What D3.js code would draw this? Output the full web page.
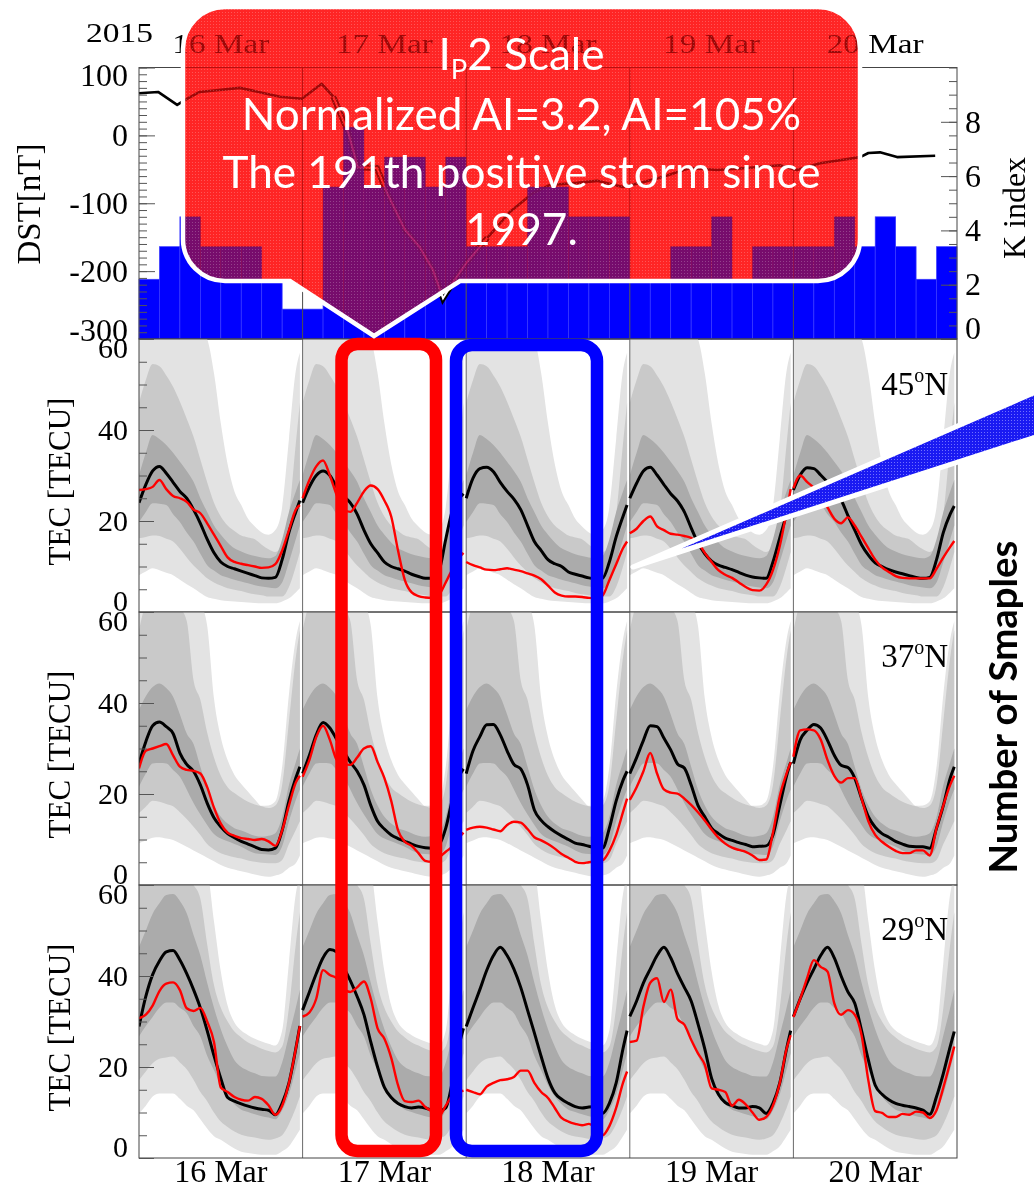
<!DOCTYPE html>
<html>
<head>
<meta charset="utf-8">
<script src="https://cdn.jsdelivr.net/npm/d3@7"></script>
<style>
  html, body { margin: 0; padding: 0; background: #fff; }
  svg { display: block; }
</style>
</head>
<body>
<svg id="chart" width="1034" height="1189"></svg>
<script>
// ---------------- data ----------------
const YEAR_LABEL = "2015";
const DAY_LABELS = ["16 Mar", "17 Mar", "18 Mar", "19 Mar", "20 Mar"];
const LAT_LABELS = ["45", "37", "29"];

// K index, 3-hour bins, 16-20 Mar
const KP_INDEX = [
  2.2, 3.4, 4.5, 3.4, 3.4, 3.4, 2.2, 1.1,
  1.1, 5.6, 7.8, 5.6, 6.7, 6.7, 5.6, 6.7,
  3.4, 3.4, 3.4, 5.6, 5.6, 4.5, 4.5, 4.5,
  2.2, 2.2, 3.4, 3.4, 4.5, 2.2, 3.4, 3.4,
  3.4, 3.4, 4.5, 3.4, 4.5, 3.4, 2.2, 3.4
];

// Dst index (hours since 16 Mar 00 UT, nT)
const DST_HOURS = [0, 2.8, 5.6, 6.7, 8.9, 14.8, 20.7, 23.9, 26.8, 28.5, 30.7, 32.1, 34.9, 36.4, 39, 41.2,
  43.1, 44.6, 46.1, 48.1, 51.1, 54.4, 57.8, 60.3, 64.3, 67.2, 71, 73.9, 76.9, 80.8, 84.8, 89.2,
  94, 96.5, 99.9, 105.8, 107, 108.7, 111.2, 116.8];
const DST_NT = [62, 64, 45, 52, 64, 70, 57, 54, 76, 57, 4, -47, -48, -85, -139, -165,
  -198, -240, -216, -187, -151, -113, -85, -73, -70, -67, -76, -69, -61, -48, -51, -48,
  -44, -51, -41, -32, -26, -25, -32, -30];
const DST_STORM_HOURS = [28.5, 51.1];

// sample times within each day (UT hours)
const HOURS = [0, 1, 2, 3, 4, 5, 6, 7, 8, 9, 10, 11, 12, 13, 14, 15, 16, 17, 18, 19, 20, 21, 22, 23, 23.6];

// ---- 45N : TEC (TECU) ----
const MEDIAN_45N = [
  [24, 28, 31, 32, 30.5, 28.5, 26.5, 25, 22.5, 19.5, 16, 13, 11, 10, 9.5, 9, 8.5, 8, 7.5, 7.4, 7.6, 11.5, 17.5, 22, 24.5],
  [24, 27.5, 30, 31, 30, 27.5, 25.5, 24, 21.5, 18, 15, 13, 11, 10, 9.5, 9, 8.3, 7.8, 7.4, 7.4, 9, 16, 22.5, 25, 26],
  [25, 29.4, 31.5, 31.8, 30.8, 28.5, 26.5, 24.8, 22.5, 19, 15.5, 13.5, 11.5, 10.6, 10, 8.8, 8.3, 7.9, 7.5, 7.3, 7.4, 11, 16.5, 21, 23.5],
  [25, 28.3, 31, 31.8, 30.1, 28, 26, 24.4, 22, 18.5, 15.2, 12.8, 11.2, 10.3, 9.8, 9.3, 8.7, 8.1, 7.7, 7.5, 7.4, 11, 16.3, 21.5, 24.5],
  [26.8, 30.1, 31.7, 31.5, 30.1, 28.5, 26.5, 24.6, 21.2, 18, 14.8, 12.5, 10.8, 10, 9.3, 8.8, 8.4, 8, 7.6, 7.4, 7.6, 11.5, 17.5, 21.5, 23.3]
];
const OBS_45N = [
  [26.8, 27, 27.5, 29, 27, 25.5, 25, 24.2, 22.5, 21.7, 19.5, 17, 14.5, 12, 11, 10.6, 10.3, 10, 9.7, 9.8, 10.5, 13.5, 18, 22.5, 23.5],
  [25, 29, 32, 33.3, 30, 25.7, 22.5, 22, 24, 26.5, 27.8, 27, 24.5, 21, 13.5, 7, 4.3, 3.5, 3.2, 3.1, 3.8, 6.5, 9.5, 12, 13],
  [11, 10.3, 9.8, 9.3, 9.2, 9.4, 9.6, 9.3, 9, 8.5, 8, 7.2, 5.8, 4.3, 3.6, 3.4, 3.4, 3.3, 3.1, 3, 3.6, 7, 10.5, 14, 15.5],
  [17.3, 18.3, 20, 21, 18.8, 18, 17.2, 17, 16.7, 16.3, 15.3, 13, 11, 9.2, 8.2, 7.5, 6.5, 5.5, 4.8, 4.7, 6, 9.2, 14.5, 22, 27],
  [27.2, 30, 28.6, 27.3, 25.5, 23, 20.5, 19.5, 20.8, 19, 16.5, 14, 11.5, 9.8, 8.8, 7.9, 7.5, 7.4, 7.4, 7.4, 7.4, 9.5, 12, 14.3, 15.6]
];
const OUTER_HI_45N = [62, 64, 66, 66, 65, 65, 64, 64, 63, 62, 60, 52.5, 41.5, 32.5, 26.5, 23.5, 20.5, 18.8, 17.5, 17, 18, 23, 38, 53, 57];
const MID_HI_45N = [46, 51, 54.5, 54, 52, 49.5, 46.2, 42.5, 38.5, 33.5, 28.5, 24, 21, 19, 17.8, 16.8, 16.4, 16, 14.8, 13.8, 13.2, 14.5, 21.5, 37, 46];
const INNER_HI_45N = [30, 35, 38.9, 38, 36.7, 35, 33, 31, 28.6, 25, 22, 19, 17, 15.3, 14, 13.3, 12.7, 12.3, 12, 11.8, 12.3, 16, 22, 26.5, 29];
const INNER_LO_45N = [19.8, 22, 23.9, 23.8, 23.5, 21.5, 19.8, 17.5, 15.5, 12.8, 10.3, 9.1, 8.1, 7.6, 7.1, 6.7, 6.3, 5.9, 5.6, 5.4, 5.2, 6.5, 11, 16, 19];
const MID_LO_45N = [16.2, 16.5, 16.8, 16.7, 16.1, 15.5, 13.9, 12, 10.2, 8.8, 7.4, 6.5, 5.8, 5.2, 4.9, 4.6, 4.2, 3.9, 3.7, 3.4, 3.4, 3.4, 5.5, 10, 13.2];
const OUTER_LO_45N = [8.1, 8.9, 9.6, 9.2, 8.6, 8.1, 7.1, 6.1, 5.2, 4.2, 3.3, 2.9, 2.6, 2.4, 2.3, 2.2, 2.1, 2, 1.9, 1.9, 1.9, 2.3, 3, 4.3, 5.2];

// ---- 37N ----
const MEDIAN_37N = [
  [26.7, 31.5, 35, 35.8, 34.8, 33.3, 29, 26.5, 25, 22, 18, 14.8, 12.8, 11.3, 10.4, 9.6, 9, 8.4, 7.8, 7.7, 8.1, 12, 18.5, 23.5, 26],
  [24.5, 28.5, 33, 35.7, 34.5, 32, 29.5, 27, 25, 22, 17.5, 14, 12.3, 11, 10.2, 9.6, 9, 8.5, 8.2, 8.1, 8.8, 12.5, 19, 24, 25.5],
  [24.5, 29.5, 32.6, 35.2, 35.3, 33, 29.5, 26.5, 25.5, 22, 16.5, 14.2, 12.8, 11.7, 10.8, 10, 9.2, 8.9, 8.5, 8.2, 8.1, 12.5, 18.5, 23, 25],
  [24.5, 28, 31.8, 35, 34.8, 32.3, 29.7, 26.6, 25.7, 22, 17.5, 15, 12.5, 11.3, 10.3, 9.8, 9.3, 8.9, 8.4, 8.5, 8.6, 11, 17.5, 24, 27],
  [26.7, 31.9, 34, 35.3, 34.5, 31.8, 28.5, 26.3, 25.8, 23.5, 19, 15, 12.7, 11.3, 10.5, 9.6, 9, 8.5, 8.4, 8.4, 8.1, 12.5, 17.5, 23.5, 26]
];
const OBS_37N = [
  [25.6, 29.5, 30, 30.5, 31, 28.5, 26, 25.3, 25.1, 24.5, 21.5, 17, 13.5, 11.5, 10.8, 10.3, 10.1, 9.9, 10.1, 9.6, 8.6, 12, 17.5, 22.5, 24],
  [23.8, 27.5, 32.5, 35, 31.9, 27.5, 26.5, 26.4, 28, 30, 30.5, 27, 23.5, 18.5, 12, 9.5, 8.6, 7, 5.3, 5.1, 6, 7.3, 8.5, 10.5, 11.5],
  [12.1, 12.6, 12.8, 12.6, 12.2, 11.8, 13.2, 13.9, 13.7, 12.3, 10.5, 9.8, 9, 8, 6.8, 6, 5.1, 4.8, 5, 5.2, 5.4, 7.5, 11, 16, 19],
  [18.7, 21.5, 25, 29, 24.5, 21, 20.3, 20.1, 19, 17.6, 16, 14.2, 12.2, 10.4, 9.1, 8.2, 7.7, 7.3, 6.5, 5.5, 5.6, 11.5, 19.5, 24.5, 27],
  [28.2, 34, 34.2, 34, 32, 27.5, 24, 22.5, 23.5, 23.5, 19, 14, 11, 9.5, 8.4, 7.5, 7, 7, 7.6, 7.6, 6.5, 12.5, 17.5, 22, 24]
];
const OUTER_HI_37N = [66, 68, 70, 70, 70, 69, 68, 66, 64, 62, 57, 41, 32.5, 27.5, 24.2, 22.2, 20.5, 18.8, 17.4, 17.5, 18.4, 26, 42, 54, 58];
const MID_HI_37N = [56, 62, 64, 65, 64, 63, 61, 58, 45, 40.7, 33.5, 28, 24, 21.5, 20.2, 19.2, 18.3, 17.7, 17.3, 16.9, 17.5, 22, 36, 50, 56];
const INNER_HI_37N = [38.5, 41.5, 43.5, 44.3, 43.3, 41.4, 37.5, 33.3, 31, 26, 21, 17.5, 15, 13.5, 12.5, 12, 11.4, 10.8, 10.6, 10.8, 11.4, 15, 22, 27, 30];
const INNER_LO_37N = [21.6, 24.5, 26.7, 26.8, 26.7, 25.3, 23.8, 21, 18, 15.5, 13.2, 11.2, 10.2, 9.6, 9, 8.4, 7.6, 7, 6.8, 6.7, 6.6, 8.5, 14, 18.7, 21];
const MID_LO_37N = [15.8, 17.2, 18.5, 18.3, 17.8, 17.3, 16, 14.5, 12.8, 11, 9, 7.8, 7, 6.5, 6.1, 5.8, 5.4, 5.1, 4.9, 4.8, 4.8, 5.5, 9, 12.1, 14];
const OUTER_LO_37N = [9.2, 9.8, 10.4, 10.5, 10.2, 9.9, 9.2, 8.4, 7.6, 6.8, 6, 5.2, 4.4, 3.8, 3.4, 3, 2.7, 2.3, 2, 1.8, 2.1, 2.6, 3.8, 4.8, 6.5];

// ---- 29N ----
const MEDIAN_29N = [
  [28.9, 35.5, 40.3, 43.3, 45.3, 45.6, 43.5, 40.5, 37, 33, 28, 22.5, 17.5, 13.3, 12.5, 11.9, 11.4, 11, 10.7, 10.5, 9.5, 12, 16.5, 24, 29],
  [32.5, 36.5, 40.5, 44, 45.8, 45.3, 42, 39, 35.5, 31.5, 25.5, 20, 15.5, 13.3, 12, 11.3, 11, 11.2, 11, 10.5, 10.3, 11, 17, 25, 28.5],
  [28.9, 33, 37, 41.2, 44.5, 46.3, 44.5, 41.5, 37.5, 32.5, 27.5, 22.3, 17.5, 14.3, 12.9, 12, 11.3, 11, 11.2, 11.3, 9.8, 12, 16.5, 24, 28],
  [31.1, 34.5, 38.5, 41.5, 44.5, 46.3, 44, 40.5, 37.5, 34.5, 29.5, 24, 17.5, 14, 12.2, 11.5, 11, 11, 11.3, 11, 9.8, 12, 16.5, 24, 28],
  [31.1, 35, 38.5, 41.5, 44.5, 46.3, 44, 40, 36.5, 34, 28, 21.5, 16, 14, 12.8, 12, 11.6, 11.3, 11, 10.5, 9.6, 13.5, 18.6, 24.5, 27.8]
];
const OBS_29N = [
  [30.7, 31.5, 33.5, 36.7, 38.3, 38.6, 36.9, 32.9, 32.3, 33, 30, 25.5, 15.5, 14.5, 13.4, 12.8, 12.6, 13.4, 13, 11.6, 9.5, 11.5, 16.5, 24, 29],
  [31.1, 32, 35, 41.3, 40.2, 39.5, 37.3, 36.5, 37.5, 38.8, 35, 28.5, 26.2, 22, 16, 12.5, 12.3, 12.6, 11.2, 10.2, 9.2, 11.5, 13.8, 14.5, 14.8],
  [15, 14.5, 14, 15.7, 16.5, 17.1, 17.3, 17.8, 19.2, 19.2, 16.5, 14.5, 13.2, 11, 8.8, 8, 7.5, 7.2, 7.5, 6.5, 5, 7, 11, 16.5, 19],
  [25.5, 25.8, 33.3, 38.5, 39.5, 34.3, 37, 30.5, 29.3, 26, 23, 20.5, 15.3, 15, 14.5, 11.5, 12.8, 11.8, 10, 8.4, 9, 11.5, 16.5, 24, 27],
  [31, 35, 39.5, 43.5, 42, 41, 34, 31.5, 32.5, 31.5, 27, 17, 10.3, 9.9, 9, 9, 9.7, 9.5, 10.2, 10, 8.8, 10.5, 15.5, 21, 24.5]
];
const OUTER_HI_29N = [66, 68, 70, 70, 70, 70, 69, 68, 66, 65, 63, 52, 41, 33.5, 29.8, 28, 27, 26.2, 25.6, 25.1, 24.7, 28, 43, 58, 62];
const MID_HI_29N = [62, 64, 66, 66, 66, 65, 64, 62, 60, 57, 47, 38, 33, 30, 27.8, 26.5, 25.4, 24.7, 24, 23.5, 23.2, 24.5, 33, 47, 54];
const INNER_HI_29N = [46.4, 50, 53.7, 56, 57.8, 58, 56.5, 53.8, 49, 44.5, 38.5, 33, 28.3, 24.5, 21.5, 20, 19.2, 18.6, 18, 17.9, 17.9, 21, 27, 33, 37];
const INNER_LO_29N = [26.7, 29, 31, 33, 34.2, 34.2, 33, 31.8, 29, 26.7, 22.5, 19.3, 16, 13.5, 11.8, 10.6, 10.1, 9.6, 9.2, 8.9, 8.5, 10.5, 14, 19.5, 23];
const MID_LO_29N = [17.1, 19, 20.8, 21.8, 22.1, 22.3, 21, 19.5, 17.2, 14.5, 12.5, 10, 8, 6.8, 5.8, 5.1, 4.7, 4.5, 4.2, 4, 4.3, 5, 7.5, 11, 13.5];
const OUTER_LO_29N = [9.8, 11.5, 13.5, 14.2, 14.2, 14.2, 13, 11.5, 10.5, 8.5, 6.5, 4.8, 4, 3, 2.1, 1.4, 1.1, 0.9, 0.7, 0.7, 0.7, 1.5, 2.6, 4.8, 6.2];

const DST_TICKS = [-300, -200, -100, 0, 100];
const K_TICKS = [0, 2, 4, 6, 8];
const TEC_TICKS = [0, 20, 40, 60];

const CALLOUT_LINES = ["Normalized AI=3.2, AI=105%", "The 191th positive storm since", "1997."];
const SIDE_TITLE = "Number of Smaples";

// ---------------- drawing ----------------
const svg = d3.select("#chart");
const SERIF = "'Liberation Serif','Times New Roman',Times,serif";
const SANS = "Lato,'Open Sans','Noto Sans',sans-serif";
const PLOT_L = 139, PLOT_R = 957;

const x = d3.scaleLinear().domain([0, 120]).range([PLOT_L, PLOT_R]);
const defs = svg.append("defs");

// ---- top panel: K index bars + Dst ----
const TOP_Y0 = 67.5, TOP_Y1 = 339;
const yDst = d3.scaleLinear().domain([-300, 100]).range([TOP_Y1, TOP_Y0]);
const yK = d3.scaleLinear().domain([0, 10]).range([TOP_Y1, TOP_Y0]);

const gTop = svg.append("g");
const kpBars = (sel) => sel.selectAll("rect").data(KP_INDEX).join("rect")
  .attr("x", (d, i) => x(i * 3))
  .attr("width", (d, i) => x(i * 3 + 3) - x(i * 3))
  .attr("y", d => yK(d))
  .attr("height", d => yK(0) - yK(d));

gTop.append("g").call(kpBars)
  .attr("fill", "#0000ff").attr("stroke", "#3a3aff").attr("stroke-width", 0.7);

gTop.append("g").selectAll("line").data([1, 2, 3, 4]).join("line")
  .attr("x1", d => x(d * 24)).attr("x2", d => x(d * 24))
  .attr("y1", TOP_Y0).attr("y2", TOP_Y1)
  .attr("stroke", "#4a4a4a").attr("stroke-width", 1);

// Dst curve; the storm main phase is drawn as an outlined (hollow) line
const dstPts = DST_HOURS.map((h, i) => [h, DST_NT[i]]);
const dstLine = d3.line().x(d => x(d[0])).y(d => yDst(d[1])).curve(d3.curveLinear);
gTop.append("path").attr("d", dstLine(dstPts))
  .attr("fill", "none").attr("stroke", "#000").attr("stroke-width", 2.6).attr("stroke-linejoin", "round");
const stormPts = dstPts.filter(d => d[0] >= DST_STORM_HOURS[0] && d[0] <= DST_STORM_HOURS[1]);
gTop.append("path").attr("d", dstLine(stormPts))
  .attr("fill", "none").attr("stroke", "#000").attr("stroke-width", 6).attr("stroke-linejoin", "miter");
gTop.append("path").attr("d", dstLine(stormPts))
  .attr("fill", "none").attr("stroke", "#fff").attr("stroke-width", 2).attr("stroke-linejoin", "miter");

// frame
gTop.append("rect").attr("x", PLOT_L).attr("y", TOP_Y0)
  .attr("width", PLOT_R - PLOT_L).attr("height", TOP_Y1 - TOP_Y0)
  .attr("fill", "none").attr("stroke", "#444").attr("stroke-width", 1);

function styleAxis(g, fs) {
  g.select(".domain").remove();
  g.selectAll(".tick line").attr("stroke", "#555").attr("stroke-width", 1);
  g.selectAll(".tick text").attr("font-family", SERIF).attr("font-size", fs).attr("fill", "#000");
}

// Dst axis (left)
gTop.append("g").attr("transform", `translate(${PLOT_L},0)`)
  .call(d3.axisLeft(yDst).tickValues(d3.range(-300, 101, 10)).tickSize(-8).tickFormat(""))
  .call(g => styleAxis(g, 0));
gTop.append("g").attr("transform", `translate(${PLOT_L},0)`)
  .call(d3.axisLeft(yDst).tickValues(DST_TICKS).tickSize(-16).tickPadding(11).tickFormat(d => String(d)))
  .call(g => styleAxis(g, 32))
  .call(g => g.selectAll(".tick text")
    .attr("transform", d => d === 100 ? "translate(0,8)" : d === -300 ? "translate(0,-9)" : null));

// K axis (right)
gTop.append("g").attr("transform", `translate(${PLOT_R},0)`)
  .call(d3.axisRight(yK).tickValues(d3.range(0, 10.01, 0.5)).tickSize(-8).tickFormat(""))
  .call(g => styleAxis(g, 0));
gTop.append("g").attr("transform", `translate(${PLOT_R},0)`)
  .call(d3.axisRight(yK).tickValues(K_TICKS).tickSize(-16).tickPadding(8).tickFormat(d => String(d)))
  .call(g => styleAxis(g, 32))
  .call(g => g.selectAll(".tick text").attr("transform", d => d === 0 ? "translate(0,-11)" : null));

// axis titles, year and day labels
svg.append("text").attr("transform", "translate(40,204) rotate(-90)")
  .attr("text-anchor", "middle").attr("font-family", SERIF).attr("font-size", 33).text("DST[nT]");
svg.append("text").attr("transform", "translate(1025,208) rotate(-90)")
  .attr("text-anchor", "middle").attr("font-family", SERIF).attr("font-size", 32).text("K index");
svg.append("text").attr("x", 86).attr("y", 42)
  .attr("font-family", SERIF).attr("font-size", 27)
  .attr("textLength", 67).attr("lengthAdjust", "spacingAndGlyphs").text(YEAR_LABEL);
svg.append("g").selectAll("text").data(DAY_LABELS).join("text")
  .attr("x", (d, i) => x(i * 24 + 12)).attr("y", 53).attr("text-anchor", "middle")
  .attr("font-family", SERIF).attr("font-size", 27)
  .attr("textLength", 97).attr("lengthAdjust", "spacingAndGlyphs").text(d => d);

// ---- TEC panels ----
const PANELS = [
  { lat: LAT_LABELS[0], top: 339, bottom: 612, median: MEDIAN_45N, obs: OBS_45N, labelY: 395,
    bands: [[OUTER_LO_45N, OUTER_HI_45N], [MID_LO_45N, MID_HI_45N], [INNER_LO_45N, INNER_HI_45N]] },
  { lat: LAT_LABELS[1], top: 612, bottom: 885, median: MEDIAN_37N, obs: OBS_37N, labelY: 667,
    bands: [[OUTER_LO_37N, OUTER_HI_37N], [MID_LO_37N, MID_HI_37N], [INNER_LO_37N, INNER_HI_37N]] },
  { lat: LAT_LABELS[2], top: 885, bottom: 1158, median: MEDIAN_29N, obs: OBS_29N, labelY: 940,
    bands: [[OUTER_LO_29N, OUTER_HI_29N], [MID_LO_29N, MID_HI_29N], [INNER_LO_29N, INNER_HI_29N]] }
];
const BAND_FILLS = ["#e3e3e3", "#c9c9c9", "#ababab"];

PANELS.forEach((p, pi) => {
  const y = d3.scaleLinear().domain([0, 60]).range([p.bottom, p.top]);
  const clipId = "clip" + pi;
  defs.append("clipPath").attr("id", clipId).append("rect")
    .attr("x", PLOT_L).attr("y", p.top).attr("width", PLOT_R - PLOT_L).attr("height", p.bottom - p.top);
  const g = svg.append("g");
  const plot = g.append("g").attr("clip-path", `url(#${clipId})`);

  // percentile envelopes, one daily profile repeated for each day
  DAY_LABELS.forEach((dl, d) => {
    p.bands.forEach(([lo, hi], b) => {
      const area = d3.area()
        .x((v, i) => x(d * 24 + HOURS[i]))
        .y0((v, i) => y(lo[i]))
        .y1((v, i) => y(hi[i]))
        .curve(d3.curveMonotoneX);
      plot.append("path").attr("d", area(HOURS)).attr("fill", BAND_FILLS[b]);
    });
  });

  // day dividers
  plot.selectAll("line.day").data([1, 2, 3, 4]).join("line")
    .attr("x1", d => x(d * 24)).attr("x2", d => x(d * 24))
    .attr("y1", p.top).attr("y2", p.bottom)
    .attr("stroke", "#6a6a6a").attr("stroke-width", 1);

  // median and observed TEC, drawn day by day
  const line = d3.line().x(d => x(d[0])).y(d => y(d[1])).curve(d3.curveMonotoneX);
  p.median.forEach((vals, d) => {
    plot.append("path").attr("d", line(vals.map((v, i) => [d * 24 + HOURS[i], v])))
      .attr("fill", "none").attr("stroke", "#000").attr("stroke-width", 3);
  });
  p.obs.forEach((vals, d) => {
    plot.append("path").attr("d", line(vals.map((v, i) => [d * 24 + HOURS[i], v])))
      .attr("fill", "none").attr("stroke", "#ff0000").attr("stroke-width", 2.4);
  });

  // frame and axis
  g.append("rect").attr("x", PLOT_L).attr("y", p.top)
    .attr("width", PLOT_R - PLOT_L).attr("height", p.bottom - p.top)
    .attr("fill", "none").attr("stroke", "#444").attr("stroke-width", 1);
  g.append("g").attr("transform", `translate(${PLOT_L},0)`)
    .call(d3.axisLeft(y).tickValues(d3.range(0, 61, 5)).tickSize(-8).tickFormat(""))
    .call(a => styleAxis(a, 0));
  g.append("g").attr("transform", `translate(${PLOT_L},0)`)
    .call(d3.axisLeft(y).tickValues(TEC_TICKS).tickSize(-15).tickPadding(11).tickFormat(d => String(d)))
    .call(a => styleAxis(a, 30))
    .call(a => a.selectAll(".tick text")
      .attr("transform", d => d === 60 ? "translate(0,9)" : d === 0 ? "translate(0,-11)" : null));

  g.append("text").attr("transform", `translate(70,${(p.top + p.bottom) / 2 + 6}) rotate(-90)`)
    .attr("text-anchor", "middle").attr("font-family", SERIF).attr("font-size", 31).text("TEC [TECU]");

  const lt = g.append("text").attr("x", 948).attr("y", p.labelY).attr("text-anchor", "end")
    .attr("font-family", SERIF).attr("font-size", 33);
  lt.append("tspan").text(p.lat);
  lt.append("tspan").attr("font-size", 20).attr("dy", -13).text("o");
  lt.append("tspan").attr("dy", 13).text("N");
});

// bottom day labels
svg.append("g").selectAll("text").data(DAY_LABELS).join("text")
  .attr("x", (d, i) => x(i * 24 + 12)).attr("y", 1182).attr("text-anchor", "middle")
  .attr("font-family", SERIF).attr("font-size", 32).text(d => d);

// ---- highlight frames for 17 and 18 Mar ----
svg.append("rect").attr("x", 341.5).attr("y", 344).attr("width", 94.5).attr("height", 807)
  .attr("rx", 16).attr("fill", "none").attr("stroke", "#ff0000").attr("stroke-width", 12.5);
svg.append("rect").attr("x", 456).attr("y", 345).attr("width", 141).attr("height", 806)
  .attr("rx", 16).attr("fill", "none").attr("stroke", "#0000ff").attr("stroke-width", 12.5);

// ---- pointer wedge and side title ----
defs.append("pattern").attr("id", "wedgeDots").attr("width", 3).attr("height", 3)
  .attr("patternUnits", "userSpaceOnUse")
  .call(pt => {
    pt.append("rect").attr("width", 3).attr("height", 3).attr("fill", "#1a1af2");
    pt.append("rect").attr("width", 1).attr("height", 1).attr("fill", "#6f6fff");
  });
svg.append("path").attr("d", "M633,567 L1045,388 L1045,434 Z")
  .attr("fill", "url(#wedgeDots)").attr("stroke", "#fff").attr("stroke-width", 5)
  .attr("stroke-linejoin", "round");

const side = svg.append("text").attr("transform", "translate(1017,707) rotate(-90)")
  .attr("text-anchor", "middle").attr("font-family", SANS).attr("font-weight", "bold")
  .attr("font-size", 40).text(SIDE_TITLE);
{
  const w = side.node().getComputedTextLength();
  side.attr("font-size", 40 * 333 / w);
}

// ---- callout ----
const CALLOUT_D = "M225,7 H818 A42,42 0 0 1 860,49 V239 A42,42 0 0 1 818,281 H460 L374,336 L290,281 H225 A42,42 0 0 1 183,239 V49 A42,42 0 0 1 225,7 Z";
defs.append("clipPath").attr("id", "calloutClip").append("path").attr("d", CALLOUT_D);
defs.append("pattern").attr("id", "calloutDots").attr("width", 3).attr("height", 3)
  .attr("patternUnits", "userSpaceOnUse")
  .append("rect").attr("width", 1).attr("height", 1).attr("fill", "#fff").attr("opacity", 0.22);

const gc = svg.append("g");
gc.append("path").attr("d", CALLOUT_D).attr("fill", "#ff2020").attr("opacity", 0.62);
gc.append("path").attr("d", CALLOUT_D).attr("fill", "#ff5050").style("mix-blend-mode", "multiply");
gc.append("g").attr("clip-path", "url(#calloutClip)").call(kpBars)
  .attr("fill", "#5012b4").attr("opacity", 0.5);
gc.append("path").attr("d", CALLOUT_D).attr("fill", "url(#calloutDots)");
gc.append("path").attr("d", CALLOUT_D).attr("fill", "none").attr("stroke", "#fff").attr("stroke-width", 4.5);

// callout text
const cx = 521.5;
const probe = gc.append("text").attr("font-family", SANS).attr("font-size", 48).text(CALLOUT_LINES[1]);
const fs = 48 * 598 / probe.node().getComputedTextLength();
probe.remove();
const t1 = gc.append("text").attr("x", cx).attr("y", 70).attr("text-anchor", "middle")
  .attr("font-family", SANS).attr("font-size", fs).attr("fill", "#fff");
t1.append("tspan").text("I");
t1.append("tspan").attr("font-size", fs * 0.62).attr("dy", fs * 0.2).text("P");
t1.append("tspan").attr("dy", -fs * 0.2).text("2 Scale");
gc.selectAll("text.cl").data(CALLOUT_LINES).join("text").attr("class", "cl")
  .attr("x", cx).attr("y", (d, i) => 130 + i * 57.5).attr("text-anchor", "middle")
  .attr("font-family", SANS).attr("font-size", fs).attr("fill", "#fff").text(d => d);
</script>
</body>
</html>
